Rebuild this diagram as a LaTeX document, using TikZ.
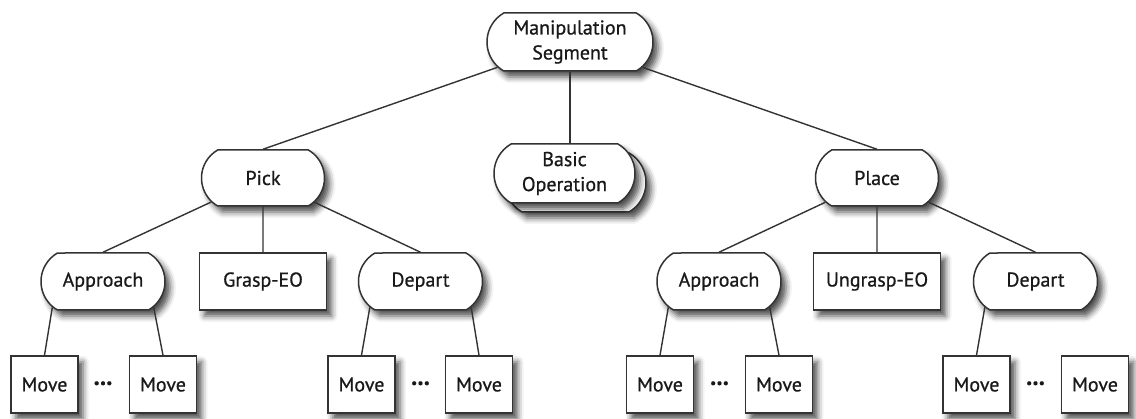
\documentclass[tikz,border=0pt]{standalone}
\usepackage{fontspec}
\setmainfont{PT Sans}
\newfontfamily\boxfont{PT Sans}[FakeBold=0.7]
\usepackage{tikz}
\usetikzlibrary{positioning,calc,shapes.misc,shadows,shadows.blur}

\begin{document}
\begin{tikzpicture}[x=1pt, y=-1pt,
    font=\boxfont\fontsize{20}{25}\selectfont,
    soft/.style={blur shadow={shadow xshift=5pt, shadow yshift=-6pt, shadow blur radius=6pt, shadow opacity=70}},
    oper/.style={rounded rectangle, rounded rectangle arc length=120, draw=black!80, line width=1.5pt, fill=white, text=black!90, minimum height=57pt, inner sep=2pt, align=center, soft},
    prim/.style={rectangle, draw=black!80, line width=1.5pt, fill=white, text=black!90, minimum height=57pt, inner sep=2pt, soft},
    movebox/.style={prim, minimum width=67pt},
    dots/.style={text=black!90, font=\boxfont\fontsize{14}{14}\selectfont},
    link/.style={draw=black!80, line width=1.4pt}]

\useasboundingbox (0,0) rectangle (1136,419);

% Top

\node[oper, minimum width=170pt, minimum height=58pt] (Segment) at (570,42) {Manipulation\\Segment};

% Basic operation (stacked)

\node[oper, minimum width=145pt, minimum height=59pt] (BasicBack) at (575.5,182.5) {};
\node[oper, minimum width=145pt, minimum height=59pt] (BasicOp)   at (564.5,173.5) {Basic\\Operation};

% Pick side

\node[oper, minimum width=127pt, minimum height=56pt] (Pick)      at (263,178)   {Pick};
\node[oper, minimum width=128pt]                      (ApproachL) at (103,281.5) {Approach};
\node[prim, minimum width=127pt]                      (GraspEO)   at (263,281.5) {Grasp-EO};
\node[oper, minimum width=128pt]                      (DepartL)   at (420.5,281.5) {Depart};

\node[movebox] (MoveA1) at (44.5,384.5)  {Move};
\node[dots]    (DotsA)  at (103,384.5)   {•••};
\node[movebox] (MoveA2) at (163,384.5)   {Move};
\node[movebox] (MoveB1) at (361.5,384.5) {Move};
\node[dots]    (DotsB)  at (420.5,384.5) {•••};
\node[movebox] (MoveB2) at (479,384.5)   {Move};

% Place side

\node[oper, minimum width=127pt, minimum height=56pt] (Place)     at (877,178)    {Place};
\node[oper, minimum width=128pt]                      (ApproachR) at (719,281.5)  {Approach};
\node[prim, minimum width=127pt]                      (UngraspEO) at (877,281.5)  {Ungrasp-EO};
\node[oper, minimum width=128pt]                      (DepartR)   at (1035.5,281.5) {Depart};

\node[movebox] (MoveC1) at (660,384.5)    {Move};
\node[dots]    (DotsC)  at (719.5,384.5)  {•••};
\node[movebox] (MoveC2) at (779,384.5)    {Move};
\node[movebox] (MoveD1) at (976.5,384.5)  {Move};
\node[dots]    (DotsD)  at (1035.5,384.5) {•••};
\node[movebox] (MoveD2) at (1095,384.5)   {Move};

% Segment rows...

\draw[link] (Pick.north) -- (Segment);
\draw[link] (Place.north) -- (Segment);
\draw[link] (Segment.south) -- (Segment.south |- BasicOp.north);

% Pick rows...

\draw[link] (ApproachL.north) -- (Pick);
\draw[link] (Pick) -- (GraspEO);
\draw[link] (DepartL.north) -- (Pick);

\draw[link] (ApproachL.207) -- (MoveA1.north);
\draw[link] (ApproachL.333) -- (MoveA2.north);
\draw[link] (DepartL.207) -- (MoveB1.north);
\draw[link] (DepartL.333) -- (MoveB2.north);

% Place rows...

\draw[link] (ApproachR.north) -- (Place);
\draw[link] (Place) -- (UngraspEO);
\draw[link] (DepartR.north) -- (Place);

\draw[link] (ApproachR.207) -- (MoveC1.north);
\draw[link] (ApproachR.333) -- (MoveC2.north);
\draw[link] (DepartR.207) -- (MoveD1.north);

\end{tikzpicture}
\end{document}
